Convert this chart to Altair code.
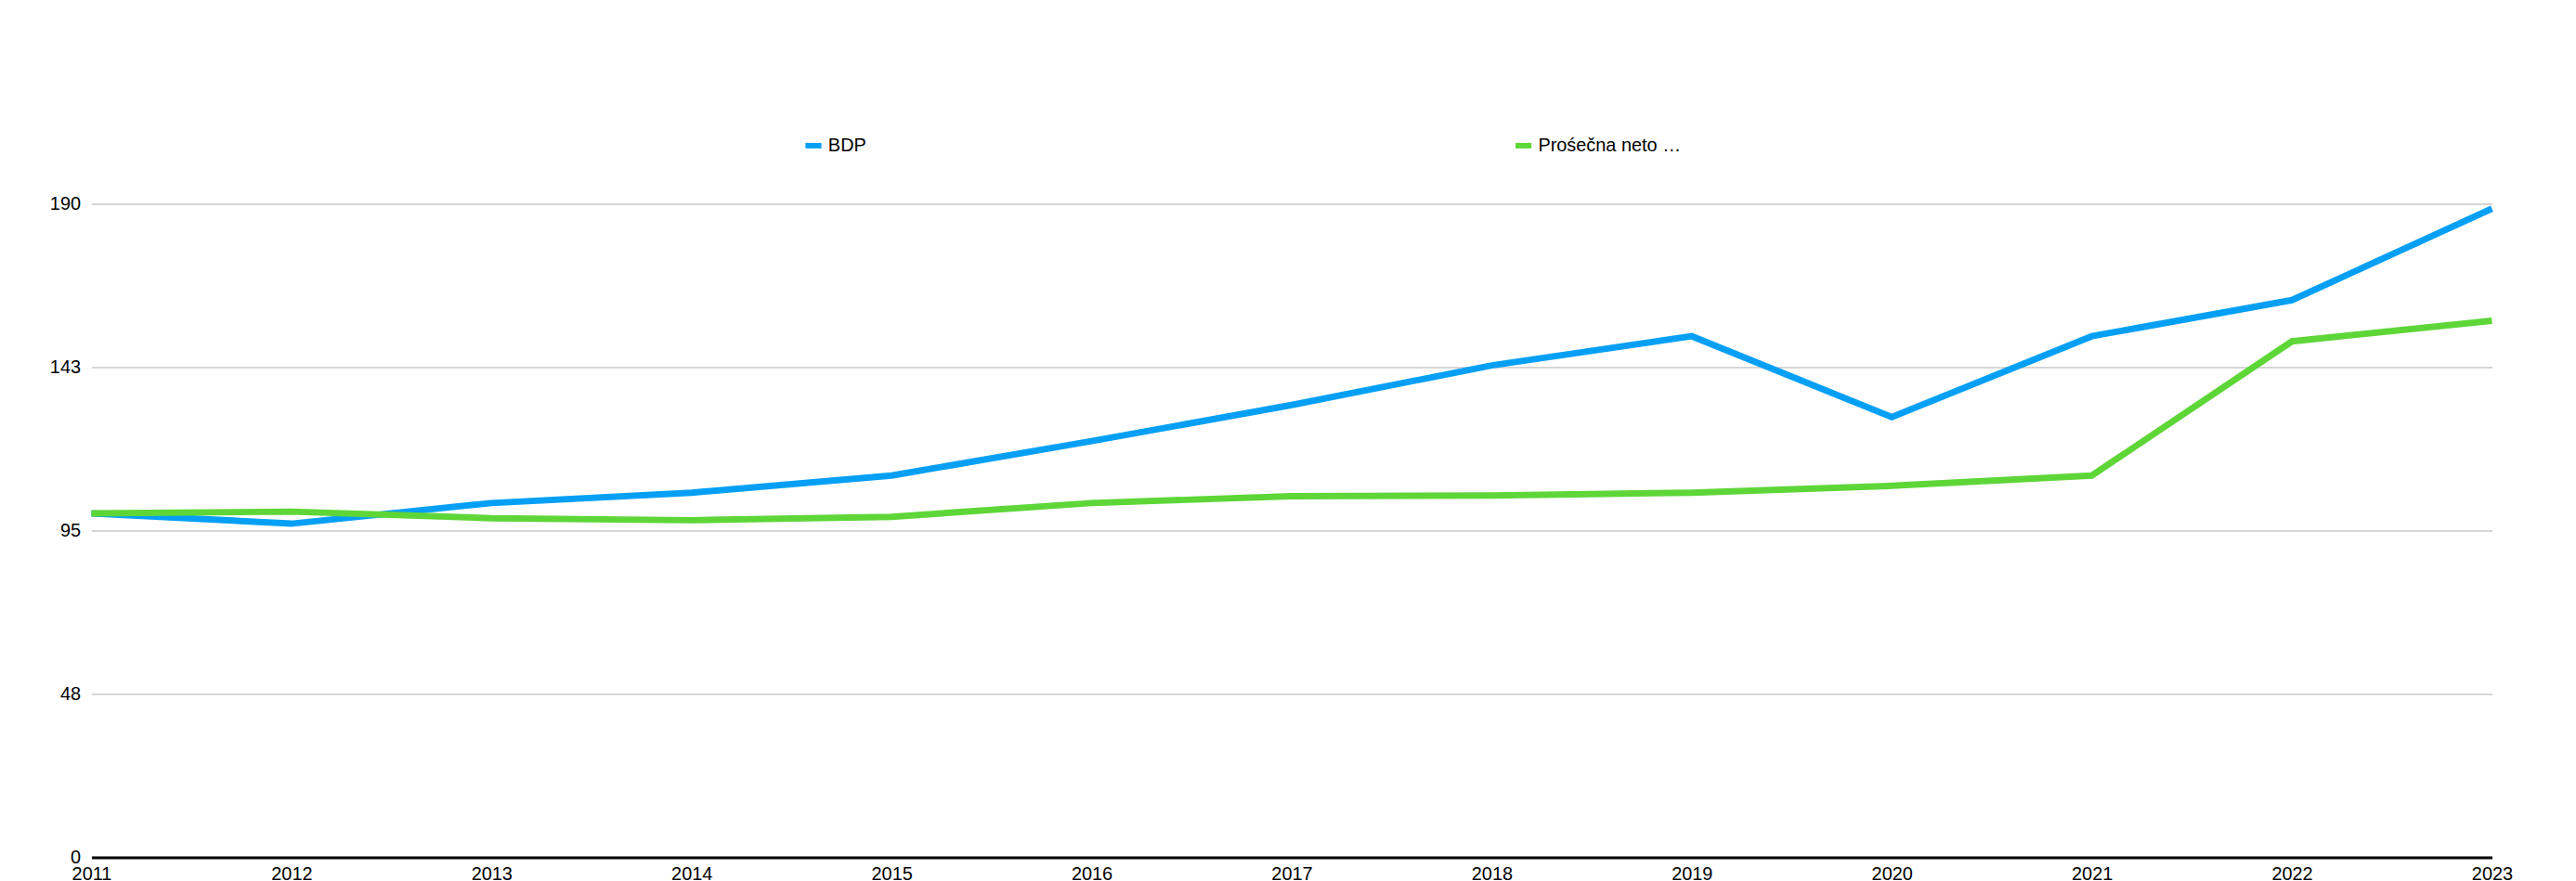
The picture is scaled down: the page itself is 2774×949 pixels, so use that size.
import altair as alt
import pandas as pd

years = list(range(2011, 2024))
bdp = [100, 97, 103, 106, 111, 121, 131.5, 143, 151.5, 128, 151.5, 162, 188.6]
zarada = [100, 100.5, 98.6, 98, 99, 103, 105, 105.2, 106, 108, 111, 150, 156]
series = ["BDP", "Prośečna neto zarada"]

df = pd.DataFrame(
    [{"year": y, "value": v, "series": series[0]} for y, v in zip(years, bdp)]
    + [{"year": y, "value": v, "series": series[1]} for y, v in zip(years, zarada)]
)

chart = (
    alt.Chart(df)
    .mark_line(strokeWidth=7, strokeCap="butt")
    .encode(
        x=alt.X(
            "year:Q",
            title=None,
            scale=alt.Scale(domain=[2011, 2023], nice=False),
            axis=alt.Axis(
                values=years, format="d", grid=False, domainColor="black",
                domainWidth=3, ticks=False, labelFontSize=20, labelPadding=8,
                labelColor="black", labelFlush=False,
            ),
        ),
        y=alt.Y(
            "value:Q",
            title=None,
            scale=alt.Scale(domain=[0, 190], nice=False),
            axis=alt.Axis(
                values=[0, 47.5, 95, 142.5, 190], format=".0f", domain=False,
                ticks=False, gridColor="#c8c8c8", gridWidth=1.5,
                labelFontSize=20, labelPadding=12, labelColor="black",
            ),
        ),
        color=alt.Color(
            "series:N",
            scale=alt.Scale(domain=series, range=["#05a0f5", "#5ed638"]),
            legend=alt.Legend(
                title=None, orient="none", legendX=770, legendY=-75,
                direction="horizontal", symbolType="stroke", symbolStrokeWidth=6,
                symbolSize=300, labelFontSize=20, labelColor="black",
                columnPadding=690,
            ),
        ),
    )
    .properties(
        width=2600, height=708,
        padding={"left": 45, "top": 135, "right": 60, "bottom": 10},
    )
    .configure(font="Liberation Sans")
    .configure_view(stroke=None)
)

chart.save("out.html", embed_options={"renderer": "svg", "actions": False})
